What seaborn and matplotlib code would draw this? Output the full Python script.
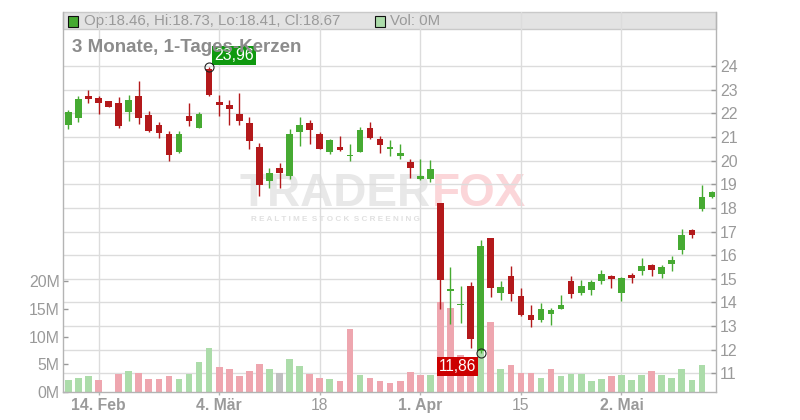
import numpy as np
import pandas as pd
import matplotlib
matplotlib.use("Agg")
import matplotlib.pyplot as plt
import matplotlib.transforms as mtransforms
from matplotlib.patches import Rectangle
import seaborn as sns

# ---------------- data ----------------
opens = [21.53, 21.83, 22.74, 22.66, 22.53, 22.45, 22.08, 22.74, 21.94, 21.51,
         21.13, 20.37, 21.90, 21.40, 23.90, 22.49, 22.36, 21.98, 21.60, 20.58,
         19.16, 19.69, 19.37, 21.23, 21.60, 21.13, 20.38, 20.58, 20.19, 20.37,
         21.39, 20.92, 20.48, 20.18, 19.95, 19.23, 19.24, 18.22, 14.49, 13.88,
         14.69, 11.95, 16.73, 14.41, 15.12, 14.27, 13.46, 13.27, 13.52, 13.73,
         14.90, 14.41, 14.53, 14.92, 15.12, 14.41, 15.16, 15.34, 15.58, 15.21,
         15.64, 16.23, 17.06, 17.97, 18.46]
highs = [22.15, 22.73, 23.00, 22.74, 22.53, 22.70, 22.79, 23.38, 22.11, 21.64,
         21.26, 21.26, 22.45, 22.07, 23.96, 22.79, 22.57, 22.87, 21.85, 20.75,
         19.69, 19.90, 21.34, 21.85, 21.73, 21.22, 20.92, 21.05, 20.70, 21.43,
         21.64, 21.05, 20.88, 20.70, 20.07, 20.07, 20.03, 18.22, 15.50, 14.69,
         14.86, 16.64, 16.73, 14.89, 15.54, 14.61, 13.89, 13.97, 13.76, 14.31,
         15.12, 14.95, 14.95, 15.37, 15.16, 15.07, 15.24, 15.88, 15.62, 15.58,
         15.96, 17.11, 17.11, 18.97, 18.73]
lows = [21.36, 21.66, 22.46, 21.98, 22.29, 21.40, 21.70, 21.57, 21.23, 20.98,
        20.00, 20.33, 21.47, 21.40, 22.76, 21.90, 21.51, 21.51, 20.50, 18.52,
        18.86, 18.86, 19.24, 20.64, 20.71, 20.50, 20.30, 20.42, 19.99, 20.37,
        20.92, 20.33, 20.18, 20.09, 19.28, 19.17, 19.11, 13.73, 13.10, 13.14,
        12.08, 11.86, 14.24, 14.11, 14.07, 13.44, 12.97, 13.18, 13.05, 13.73,
        14.20, 14.32, 14.32, 14.79, 14.62, 14.07, 14.83, 15.17, 15.13, 15.05,
        15.34, 16.06, 16.74, 17.88, 18.41]
closes = [22.06, 22.62, 22.63, 22.46, 22.29, 21.49, 22.56, 21.83, 21.27, 21.19,
          20.26, 21.13, 21.68, 21.98, 22.79, 22.38, 22.21, 21.70, 20.85, 18.99,
          19.49, 19.49, 21.13, 21.51, 21.32, 20.51, 20.88, 20.45, 20.21, 21.30,
          20.96, 20.66, 20.58, 20.33, 19.71, 19.35, 19.65, 14.96, 14.52, 13.93,
          12.46, 16.39, 14.62, 14.65, 14.37, 13.48, 13.27, 13.72, 13.68, 13.89,
          14.37, 14.69, 14.86, 15.20, 15.00, 15.03, 15.05, 15.54, 15.38, 15.50,
          15.79, 16.85, 16.87, 18.46, 18.67]
volumes_m = [2.14, 2.50, 2.86, 2.14, 0.0, 3.21, 3.75, 3.39, 2.32, 2.32,
             2.86, 2.32, 3.21, 5.36, 7.86, 4.46, 4.10, 2.86, 3.75, 5.00,
             4.10, 3.39, 5.89, 4.64, 3.21, 2.50, 2.32, 1.96, 11.43, 3.04,
             2.50, 1.96, 1.61, 1.96, 3.57, 3.04, 3.04, 16.30, 15.20, 6.60,
             4.00, 7.90, 12.60, 4.10, 4.80, 3.40, 3.40, 2.50, 4.10, 2.86,
             3.20, 3.20, 1.96, 2.30, 2.86, 3.04, 2.14, 3.04, 3.75, 3.04,
             2.50, 4.10, 2.14, 4.82, 0.0]
tick_days = [3, 15, 25, 35, 45, 55]
tick_labels = ["14. Feb", "4. Mär", "18", "1. Apr", "15", "2. Mai"]
bold_labels = ["14. Feb", "4. Mär", "1. Apr", "2. Mai"]
price_ticks = list(range(11, 25))
vol_ticks = [0, 5, 10, 15, 20]
title = "3 Monate, 1-Tages-Kerzen"
header_ohlc = "Op:18.46, Hi:18.73, Lo:18.41, Cl:18.67"
header_vol = "Vol: 0M"
high_label, high_day, high_val = "23,96", 14, 23.96
low_label, low_day, low_val = "11,86", 41, 11.86

# ---------------- style ----------------
sns.set_theme(style="white")
plt.rcParams["font.family"] = ["Liberation Sans", "DejaVu Sans"]

GREEN = "#46aa32"
RED = "#b3191b"
VOL_COLORS = {"up": "#acdcaa", "down": "#eea6af", "flat": "#bfbfbf"}
GRID = "#dcdcdc"
SPINE = "#b4b4b4"
LABEL = "#9a9a9a"

W, H = 800, 420
L, R, T, B = 63, 716, 12, 392

fig = plt.figure(figsize=(W / 100, H / 100), dpi=100)
fig.patch.set_facecolor("white")
ax_v = fig.add_axes([L / W, 1 - B / H, (R - L) / W, (B - T) / H])
ax = ax_v.twinx()

n = len(closes)
days = np.arange(n)
o = np.array(opens); c = np.array(closes); h = np.array(highs); l = np.array(lows)

# volume direction (close vs previous close)
dirs = []
for i in range(n):
    ref = closes[i - 1] if i > 0 else opens[i]
    if np.isclose(closes[i], ref):
        dirs.append("flat")
    elif closes[i] > ref:
        dirs.append("up")
    else:
        dirs.append("down")

df = pd.DataFrame({"day": days, "vol": volumes_m, "dir": dirs})
sns.barplot(data=df, x="day", y="vol", hue="dir", palette=VOL_COLORS,
            native_scale=True, dodge=False, width=0.66, saturation=1,
            errorbar=None, legend=False, linewidth=0, ax=ax_v, zorder=1)

xlim = (-0.53, 64.4)
ylim_p = (10.20, 26.30)
ylim_v = (0, 68.5)

# candles
col = np.where(c >= o, GREEN, RED)
ax.vlines(days, l, h, colors=col, lw=1.0, zorder=2)
body_lo = np.minimum(o, c)
body_h = np.maximum(np.abs(c - o), 0.06)
ax.bar(days, body_h, bottom=body_lo, width=0.66, color=col, linewidth=0, zorder=3)

ax.set_xlim(*xlim); ax_v.set_xlim(*xlim)
ax.set_ylim(*ylim_p); ax_v.set_ylim(*ylim_v)

# header bar
hb = (B - 29) / (B - T)
ax_v.add_patch(Rectangle((0, hb), 1, 1 - hb, transform=ax_v.transAxes,
                         facecolor="#e3e3e3", edgecolor="#c9c9c9", lw=1,
                         zorder=0.2, clip_on=False))

# horizontal price grid (behind volume bars)
blend = mtransforms.blended_transform_factory(ax_v.transAxes, ax.transData)
for p in price_ticks:
    ax_v.plot([0, 1], [p, p], transform=blend, color=GRID, lw=1.0, zorder=0.5)

# vertical grid
ax_v.set_xticks(tick_days)
ax_v.set_xticklabels(tick_labels)
ax_v.grid(axis="x", color=GRID, lw=1.0)
ax_v.grid(axis="y", visible=False)
ax.grid(False)
ax_v.set_axisbelow(True)
ax_v.set_xlabel(""); ax_v.set_ylabel("")
ax.set_xlabel(""); ax.set_ylabel("")

# watermark
ax_v.text(240 / W, 1 - 206 / H, "TRADER", transform=fig.transFigure, fontsize=33,
          fontweight="bold", color="#e8e8e8", ha="left", va="baseline", zorder=0.3)
ax_v.text(432 / W, 1 - 206 / H, "FOX", transform=fig.transFigure, fontsize=33,
          fontweight="bold", color="#fbd6d9", ha="left", va="baseline", zorder=0.3)
ax_v.text(251 / W, 1 - 219 / H, "R E A L T I M E  S T O C K  S C R E E N I N G",
          transform=fig.transFigure, fontsize=5.9, fontweight="bold", color="#e0e0e0",
          ha="left", va="center", zorder=0.3)

# axes: spines and ticks
for s in ["top", "right"]:
    ax_v.spines[s].set_visible(False)
for s in ["left", "bottom"]:
    ax_v.spines[s].set_color(SPINE)
    ax_v.spines[s].set_linewidth(1.0)
for s in ["top", "left", "bottom"]:
    ax.spines[s].set_visible(False)
ax.spines["right"].set_color(SPINE)
ax.spines["right"].set_linewidth(1.0)

ax_v.set_yticks(vol_ticks)
ax_v.set_yticklabels([f"{v}M" for v in vol_ticks])
ax_v.tick_params(axis="y", direction="in", length=3.3, width=1, color="#999999",
                 labelcolor=LABEL, labelsize=11.4, pad=2.5, left=True)
ax_v.tick_params(axis="x", direction="out", length=2.5, width=1, color=SPINE,
                 labelcolor=LABEL, labelsize=11.3, pad=1.5, bottom=True)
for lab in ax_v.get_xticklabels():
    if lab.get_text() in bold_labels:
        lab.set_fontweight("bold")

ax.set_yticks(price_ticks)
ax.set_yticklabels([str(p) for p in price_ticks])
ax.tick_params(axis="y", direction="in", length=3.3, width=1, color="#999999",
               labelcolor=LABEL, labelsize=11.4, pad=3, right=True)
ax.tick_params(axis="x", bottom=False, labelbottom=False)

# extreme markers and labels
ax.annotate(high_label, xy=(high_day, high_val), xytext=(3.6, 3.0),
            textcoords="offset points", ha="left", va="bottom", fontsize=11.4,
            color="white", zorder=4,
            bbox=dict(boxstyle="square,pad=0.12", fc="#0f990f", ec="none"))
ax.plot([high_day], [high_val], marker="o", ms=6.5, mfc="none", mec="#222222",
        mew=0.8, zorder=5)
ax.annotate(low_label, xy=(low_day, low_val), xytext=(-3.0, -4.6),
            textcoords="offset points", ha="right", va="top", fontsize=11.2,
            color="white", zorder=4,
            bbox=dict(boxstyle="square,pad=0.12", fc="#cc0000", ec="none"))
ax.plot([low_day], [low_val], marker="o", ms=6.5, mfc="none", mec="#222222",
        mew=0.8, zorder=5)

# header contents
fig.add_artist(Rectangle((68 / W, 1 - 26.5 / H), 10 / W, 10 / H, transform=fig.transFigure,
                         facecolor=GREEN, edgecolor="#111111", lw=0.8))
fig.text(84 / W, 1 - 21 / H, header_ohlc, fontsize=10.8, color="#9a9a9a",
         ha="left", va="center")
fig.add_artist(Rectangle((375 / W, 1 - 26.5 / H), 10 / W, 10 / H, transform=fig.transFigure,
                         facecolor="#acdcaa", edgecolor="#111111", lw=0.8))
fig.text(390 / W, 1 - 21 / H, header_vol, fontsize=10.8, color="#9a9a9a",
         ha="left", va="center")

# title
fig.text(72 / W, 1 - 47 / H, title, fontsize=13.5, fontweight="bold",
         color="#8c8c8c", ha="left", va="center")

fig.savefig("out.png", dpi=100, facecolor="white")
